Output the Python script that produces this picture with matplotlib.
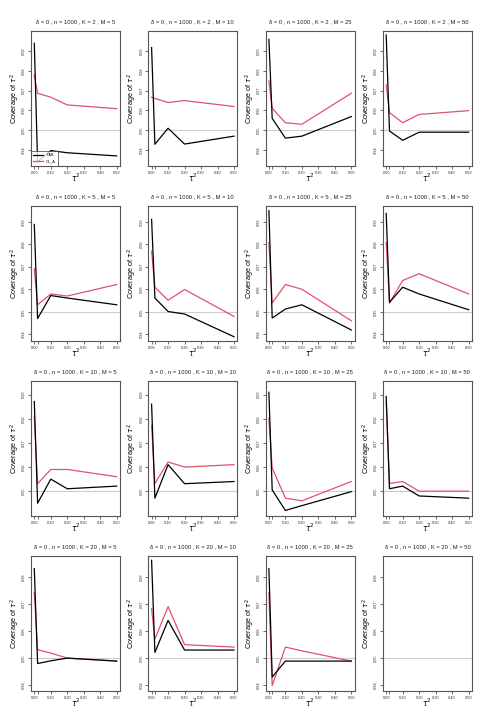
import matplotlib
matplotlib.use("Agg")
import matplotlib.pyplot as plt

plt.rcParams["font.family"] = ["Liberation Sans", "DejaVu Sans"]
plt.rcParams["mathtext.fontset"] = "dejavusans"

tau2 = [0.0, 0.02, 0.1, 0.2, 0.5]
K_values = [2, 5, 10, 20]
M_values = [5, 10, 25, 50]

# black line (DML), one list per M
dml_k2 = [
    [0.994, 0.934, 0.9397, 0.9386, 0.937],
    [0.9918, 0.9429, 0.951, 0.943, 0.947],
    [0.996, 0.956, 0.946, 0.947, 0.9569],
    [0.9982, 0.9496, 0.9449, 0.949, 0.949],
]
dml_k5 = [
    [0.9888, 0.947, 0.9572, 0.9561, 0.9531],
    [0.9911, 0.9561, 0.9501, 0.949, 0.9389],
    [0.9949, 0.9472, 0.9512, 0.9531, 0.9419],
    [0.9937, 0.9542, 0.9609, 0.9579, 0.9509],
]
dml_k10 = [
    [0.9872, 0.945, 0.955, 0.951, 0.9521],
    [0.9861, 0.9471, 0.961, 0.9531, 0.954],
    [0.991, 0.9505, 0.942, 0.944, 0.9498],
    [0.9893, 0.951, 0.9521, 0.948, 0.9471],
]
dml_k20 = [
    [0.9832, 0.948, 0.949, 0.95, 0.9489],
    [0.9863, 0.9521, 0.964, 0.953, 0.953],
    [0.9832, 0.943, 0.9489, 0.9489, 0.9489],
    [],
]

# red line (CL_A), one list per M
cla_k2 = [
    [0.978, 0.9687, 0.9667, 0.9628, 0.9609],
    [0.9667, 0.9661, 0.964, 0.965, 0.962],
    [0.975, 0.9611, 0.9538, 0.953, 0.9687],
    [0.9729, 0.9589, 0.9538, 0.958, 0.9599],
]
cla_k5 = [
    [0.9691, 0.9531, 0.9579, 0.957, 0.9621],
    [0.977, 0.9609, 0.9551, 0.9599, 0.9479],
    [0.9808, 0.9539, 0.9621, 0.96, 0.946],
    [0.9808, 0.9539, 0.9639, 0.9669, 0.9579],
]
cla_k10 = [
    [0.9808, 0.9531, 0.959, 0.959, 0.956],
    [0.9773, 0.9532, 0.9621, 0.96, 0.961],
    [0.9802, 0.9596, 0.9471, 0.946, 0.954],
    [0.9872, 0.9532, 0.954, 0.95, 0.95],
]
cla_k20 = [
    [0.9744, 0.9531, 0.9519, 0.95, 0.9489],
    [0.9683, 0.9571, 0.9691, 0.955, 0.9541],
    [0.9742, 0.9398, 0.9541, 0.9527, 0.9489],
    [],
]

dml_rows = [dml_k2, dml_k5, dml_k10, dml_k20]
cla_rows = [cla_k2, cla_k5, cla_k10, cla_k20]
row_ylims = [(0.9319, 1.0002), (0.937, 0.997), (0.9397, 0.9957), (0.9378, 0.9879)]
row_yticks = [
    [0.94, 0.95, 0.96, 0.97, 0.98, 0.99],
    [0.94, 0.95, 0.96, 0.97, 0.98, 0.99],
    [0.95, 0.96, 0.97, 0.98, 0.99],
    [0.94, 0.95, 0.96, 0.97, 0.98],
]

red = "#DF536B"
W, H = 495, 726
fig = plt.figure(figsize=(W / 100, H / 100), dpi=100)

for r, K in enumerate(K_values):
    for c, M in enumerate(M_values):
        left = 31 + c * 117.3
        top = 31 + r * 175
        ax = fig.add_axes([left / W, 1 - (top + 135) / H, 89 / W, 135 / H])
        ax.axhline(0.95, color="#cccccc", lw=0.8, zorder=1)
        if dml_rows[r][c]:
            ax.plot(tau2, dml_rows[r][c], color="black", lw=0.9, label="DML", zorder=3)
            ax.plot(tau2, cla_rows[r][c], color=red, lw=0.9, label="CL_A", zorder=2)
        ax.set_xlim(-0.02, 0.52)
        ax.set_ylim(*row_ylims[r])
        ax.set_xticks([0.0, 0.02, 0.1, 0.2, 0.3, 0.4, 0.5])
        ax.set_xticklabels(["0.00", "", "0.10", "0.20", "0.30", "0.40", "0.50"])
        ax.set_yticks(row_yticks[r])
        ax.set_yticklabels([f"{v:.2f}" for v in row_yticks[r]])
        ax.tick_params(axis="both", labelsize=2.8, length=2, width=0.5,
                       pad=1.5, colors="#333333")
        ax.tick_params(axis="y", labelrotation=90)
        for lab in ax.get_yticklabels():
            lab.set_va("center")
        for sp in ax.spines.values():
            sp.set_color("#555555")
            sp.set_linewidth(0.8)
        ax.set_title(f"δ = 0 , n = 1000 , K = {K} , M = {M}", fontsize=4.2, pad=5.5,
                     color="#222222")
        ax.set_ylabel(r"Coverage of $\tau^2$", fontsize=5.2, labelpad=0)
        ax.set_xlabel(r"$\tau^2$", fontsize=5.5, labelpad=-2.5)
        if r == 0 and c == 0:
            leg = ax.legend(loc="lower left", fontsize=2.8, frameon=True,
                            fancybox=False, borderaxespad=0, handlelength=2.5,
                            borderpad=0.6, labelspacing=0.6)
            leg.get_frame().set_edgecolor("#333333")
            leg.get_frame().set_linewidth(0.6)

fig.savefig("out.png", dpi=100)
